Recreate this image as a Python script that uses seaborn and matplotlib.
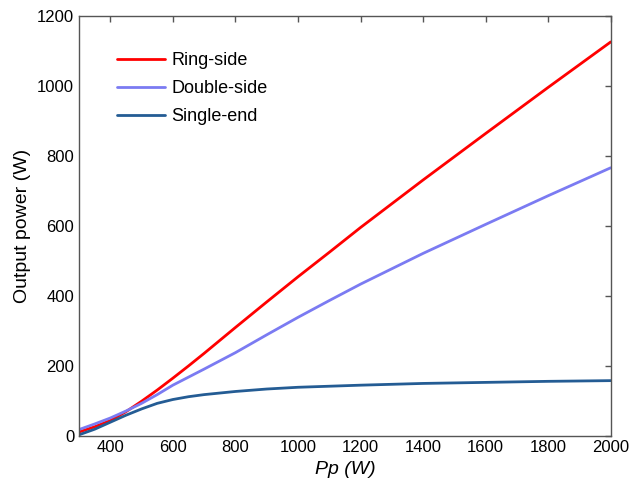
import pandas as pd
import matplotlib
matplotlib.use('Agg')
import matplotlib.pyplot as plt
import seaborn as sns

# Pump power (W) and output power (W) for the three pumping schemes
pump = [300, 350, 400, 450, 500, 550, 600, 650, 700, 800, 900, 1000, 1100, 1200, 1400, 1600, 1800, 2000]
ring_side = [10, 25, 43, 68, 98, 130, 164, 199, 235, 309, 382, 454, 524, 595, 731, 864, 996, 1126]
double_side = [17, 33, 50, 70, 92, 117, 144, 167, 190, 237, 288, 338, 386, 433, 521, 604, 686, 766]
single_end = [2, 18, 38, 58, 76, 92, 103, 111, 117, 126, 133, 138, 141, 144, 149, 152, 155, 157]

names = ['Ring-side', 'Double-side', 'Single-end']
colors = ['#ff0000', '#7b7bf2', '#245c94']

df = pd.DataFrame({'Pp': pump * 3,
                   'power': ring_side + double_side + single_end,
                   'scheme': [n for n in names for _ in pump]})

sns.set_style('white')
plt.rcParams['font.family'] = ['Liberation Sans', 'DejaVu Sans']
plt.rcParams['text.color'] = 'black'
plt.rcParams['axes.labelcolor'] = 'black'

fig = plt.figure(figsize=(6.3, 4.9), dpi=100)
ax = fig.add_axes([0.1254, 0.1112, 0.844, 0.856])

sns.lineplot(data=df, x='Pp', y='power', hue='scheme', palette=colors,
             hue_order=names, linewidth=2, ax=ax)

ax.set_xlim(300, 2000)
ax.set_ylim(0, 1200)
ax.set_xticks(range(400, 2001, 200))
ax.set_yticks(range(0, 1201, 200))
ax.tick_params(direction='in', top=True, right=True, labelsize=12,
               length=4, color='#555555', width=1, labelcolor='black')
for s in ax.spines.values():
    s.set_color('#555555')
    s.set_linewidth(1)

ax.set_xlabel('Pp (W)', fontsize=14, style='italic')
ax.set_ylabel('Output power (W)', fontsize=14)

leg = ax.legend(loc='upper left', bbox_to_anchor=(0.04, 0.953), frameon=False,
                fontsize=13, handlelength=2.7, handletextpad=0.35,
                labelspacing=0.62)

fig.savefig('out.png', dpi=100)
